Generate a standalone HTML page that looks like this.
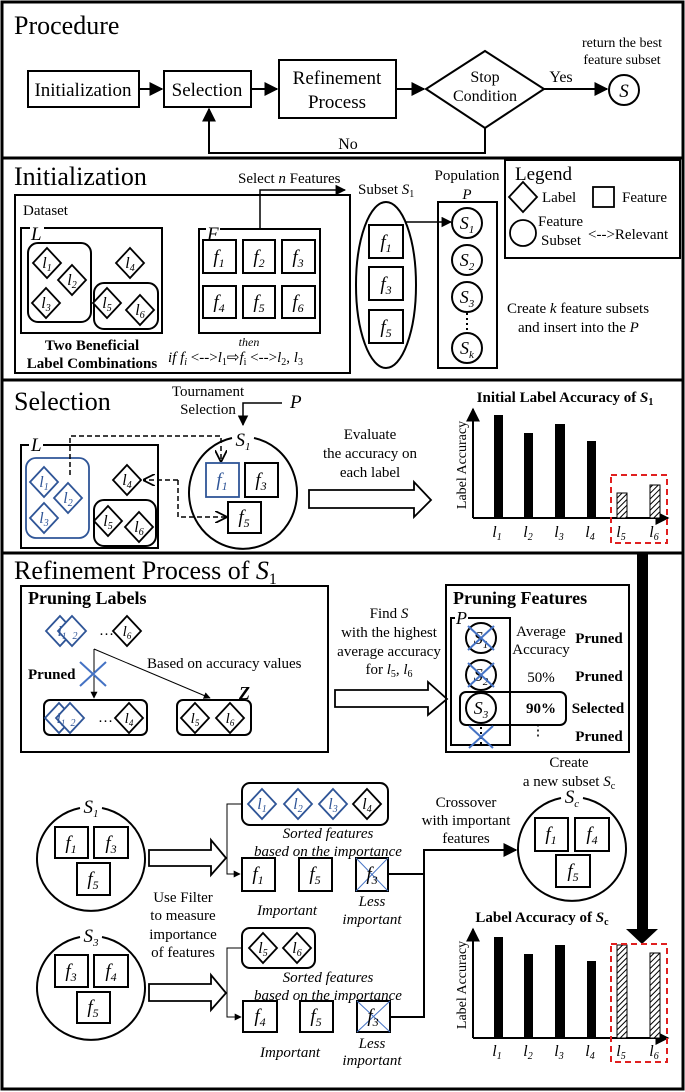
<!DOCTYPE html>
<html><head><meta charset="utf-8"><style>
html,body{margin:0;padding:0;background:#fff}
svg{display:block;font-family:"Liberation Serif",serif}
.t{font-size:15px}
.i{font-style:italic}
.b{font-weight:bold}
.bl{stroke:#2f5597}
</style></head><body>
<svg width="685" height="1092" viewBox="0 0 685 1092" xmlns="http://www.w3.org/2000/svg">
<defs>
<marker id="ar" viewBox="0 0 10 10" refX="9" refY="5" markerWidth="7" markerHeight="7" orient="auto"><path d="M0,0L10,5L0,10z" fill="#000"/></marker>
<marker id="ao" viewBox="0 0 10 10" refX="9" refY="5" markerWidth="8" markerHeight="8" orient="auto"><path d="M0,0L10,5L0,10" fill="none" stroke="#000" stroke-width="1.5"/></marker>
<pattern id="hat" patternUnits="userSpaceOnUse" width="4" height="4" patternTransform="rotate(45)"><rect width="4" height="4" fill="#fff"/><line x1="0" y1="0" x2="0" y2="4" stroke="#000" stroke-width="2"/></pattern>
<polygon id="dm" points="0,-15 14,0 0,15 -14,0" fill="#fff" stroke="#000" stroke-width="1.8"/>
<polygon id="db" points="0,-15 14,0 0,15 -14,0" fill="#fff" stroke="#2f5597" stroke-width="1.8"/>
</defs>
<g fill="none" stroke="#000" stroke-width="3">
<rect x="2" y="2" width="681" height="156"/>
<rect x="2" y="158" width="681" height="222"/>
<rect x="2" y="380" width="681" height="173"/>
<rect x="2" y="553" width="681" height="536"/>
</g>

<!-- PROCEDURE -->
<text x="14" y="34" font-size="26">Procedure</text>
<g fill="#fff" stroke="#000" stroke-width="2">
<rect x="28" y="71" width="111" height="36"/>
<rect x="164" y="71" width="87" height="36"/>
<rect x="279" y="60" width="117" height="58"/>
<polygon points="485,51 544,89 485,128 426,89"/>
<circle cx="624" cy="90" r="15"/>
</g>
<g stroke="#000" stroke-width="2" fill="none">
<line x1="139" y1="89" x2="162" y2="89" marker-end="url(#ar)"/>
<line x1="251" y1="89" x2="277" y2="89" marker-end="url(#ar)"/>
<line x1="396" y1="89" x2="424" y2="89" marker-end="url(#ar)"/>
<line x1="544" y1="89" x2="607" y2="89" marker-end="url(#ar)"/>
<polyline points="485,128 485,153 209,153 209,109" marker-end="url(#ar)"/>
</g>
<g font-size="19" text-anchor="middle">
<text x="83" y="96">Initialization</text>
<text x="207" y="96">Selection</text>
<text x="337" y="84">Refinement</text>
<text x="337" y="108">Process</text>
<text x="485" y="82" font-size="16">Stop</text>
<text x="485" y="101" font-size="16">Condition</text>
<text x="561" y="82" font-size="16">Yes</text>
<text x="348" y="149" font-size="16">No</text>
<text x="624" y="97" class="i">S</text>
<text x="622" y="47" font-size="14">return the best</text>
<text x="622" y="64" font-size="14">feature subset</text>
</g>

<!-- INITIALIZATION -->
<text x="14" y="185" font-size="26">Initialization</text>
<g fill="none" stroke="#000" stroke-width="2">
<rect x="15" y="195" width="335" height="178"/>
<rect x="21" y="228" width="141" height="105"/>
<rect x="28" y="243" width="63" height="79" rx="10"/>
<rect x="94" y="283" width="64" height="46" rx="10"/>
<rect x="199" y="229" width="121" height="104"/>
<ellipse cx="386" cy="285" rx="30" ry="83"/>
<rect x="438" y="202" width="59" height="166"/>
<rect x="505" y="160" width="175" height="98"/>
</g>
<rect x="30" y="222" width="14" height="10" fill="#fff"/>
<rect x="206" y="222" width="14" height="10" fill="#fff"/>
<text x="23" y="215" class="t" font-size="19">Dataset</text>
<text x="31" y="240" class="i" font-size="19">L</text>
<text x="207" y="240" class="i" font-size="19">F</text>
<use href="#dm" x="47" y="263"/><use href="#dm" x="72" y="280"/><use href="#dm" x="46" y="303"/>
<use href="#dm" x="130" y="263"/><use href="#dm" x="107" y="303"/><use href="#dm" x="140" y="310"/>
<g font-size="16" text-anchor="middle" class="i">
<text x="47" y="268">l<tspan font-size="10" dy="3">1</tspan></text>
<text x="72" y="285">l<tspan font-size="10" dy="3">2</tspan></text>
<text x="46" y="308">l<tspan font-size="10" dy="3">3</tspan></text>
<text x="130" y="268">l<tspan font-size="10" dy="3">4</tspan></text>
<text x="107" y="308">l<tspan font-size="10" dy="3">5</tspan></text>
<text x="140" y="315">l<tspan font-size="10" dy="3">6</tspan></text>
</g>
<g fill="#fff" stroke="#000" stroke-width="2">
<rect x="203" y="240" width="33" height="33"/><rect x="243" y="240" width="32" height="33"/><rect x="282" y="240" width="33" height="33"/>
<rect x="203" y="286" width="33" height="32"/><rect x="243" y="286" width="32" height="32"/><rect x="282" y="286" width="33" height="32"/>
<rect x="369" y="225" width="34" height="33"/><rect x="369" y="267" width="34" height="33"/><rect x="369" y="310" width="34" height="33"/>
<circle cx="467" cy="223" r="15"/><circle cx="467" cy="260" r="15"/><circle cx="467" cy="297" r="15"/><circle cx="467" cy="348" r="15"/>
</g>
<g font-size="19" text-anchor="middle" class="i">
<text x="219" y="263">f<tspan font-size="12" dy="4">1</tspan></text>
<text x="259" y="263">f<tspan font-size="12" dy="4">2</tspan></text>
<text x="298" y="263">f<tspan font-size="12" dy="4">3</tspan></text>
<text x="219" y="308">f<tspan font-size="12" dy="4">4</tspan></text>
<text x="259" y="308">f<tspan font-size="12" dy="4">5</tspan></text>
<text x="298" y="308">f<tspan font-size="12" dy="4">6</tspan></text>
<text x="386" y="248">f<tspan font-size="12" dy="4">1</tspan></text>
<text x="386" y="290">f<tspan font-size="12" dy="4">3</tspan></text>
<text x="386" y="333">f<tspan font-size="12" dy="4">5</tspan></text>
<text x="467" y="229" font-size="18">S<tspan font-size="11" dy="4">1</tspan></text>
<text x="467" y="266" font-size="18">S<tspan font-size="11" dy="4">2</tspan></text>
<text x="467" y="303" font-size="18">S<tspan font-size="11" dy="4">3</tspan></text>
<text x="467" y="354" font-size="18">S<tspan font-size="11" dy="4">k</tspan></text>
</g>
<line x1="467" y1="313" x2="467" y2="333" stroke="#000" stroke-width="2" stroke-dasharray="2,3"/>
<g stroke="#000" stroke-width="1.5" fill="none">
<polyline points="260,229 260,190 345,190" marker-end="url(#ar)"/>
<line x1="405" y1="222" x2="451" y2="222" marker-end="url(#ar)"/>
</g>
<text x="238" y="183" class="t">Select <tspan class="i">n</tspan> Features</text>
<text x="358" y="194" class="t">Subset <tspan class="i">S</tspan><tspan font-size="10" dy="3">1</tspan></text>
<text x="467" y="180" class="t" text-anchor="middle">Population</text>
<text x="467" y="199" class="t i" text-anchor="middle">P</text>
<text x="92" y="350" class="t b" text-anchor="middle">Two Beneficial</text>
<text x="92" y="368" class="t b" text-anchor="middle">Label Combinations</text>
<text x="249" y="346" font-size="12" class="i" text-anchor="middle">then</text>
<text x="168" y="362" class="t"><tspan class="i">if f<tspan font-size="10" dy="3">i</tspan></tspan><tspan dy="-3"> &lt;--&gt;</tspan><tspan class="i">l</tspan><tspan font-size="10" dy="3">1</tspan><tspan dy="-3">⇨</tspan><tspan class="i">f</tspan><tspan font-size="10" dy="3">i</tspan><tspan dy="-3"> &lt;--&gt;</tspan><tspan class="i">l</tspan><tspan font-size="10" dy="3">2</tspan><tspan dy="-3">, </tspan><tspan class="i">l</tspan><tspan font-size="10" dy="3">3</tspan></text>
<!-- legend -->
<text x="515" y="180" font-size="19">Legend</text>
<use href="#dm" x="523" y="197"/>
<text x="542" y="202" class="t">Label</text>
<rect x="593" y="187" width="21" height="20" fill="none" stroke="#000" stroke-width="1.8"/>
<text x="622" y="202" class="t">Feature</text>
<circle cx="523" cy="233" r="13" fill="none" stroke="#000" stroke-width="1.8"/>
<text x="538" y="226" class="t">Feature</text>
<text x="541" y="245" class="t">Subset</text>
<text x="588" y="239" class="t">&lt;--&gt;Relevant</text>
<text x="507" y="313" class="t">Create <tspan class="i">k</tspan> feature subsets</text>
<text x="518" y="332" class="t">and insert into the <tspan class="i">P</tspan></text>

<!-- SELECTION -->
<text x="14" y="410" font-size="26">Selection</text>
<text x="208" y="396" class="t" text-anchor="middle">Tournament</text>
<text x="208" y="414" class="t" text-anchor="middle">Selection</text>
<text x="290" y="408" font-size="19" class="i">P</text>
<polyline points="282,403 243,403 243,425" fill="none" stroke="#000" stroke-width="1.5" marker-end="url(#ar)"/>
<text x="243" y="446" font-size="19" class="i" text-anchor="middle">S<tspan font-size="11" dy="4">1</tspan></text>
<g fill="none" stroke="#000" stroke-width="2">
<path d="M232,438 A54,56 0 1 0 254,438"/>
<rect x="21" y="445" width="137" height="103"/>
<rect x="94" y="500" width="62" height="46" rx="10"/>
</g>
<rect x="29" y="440" width="14" height="10" fill="#fff"/>
<text x="31" y="451" class="i" font-size="19">L</text>
<rect x="26" y="458" width="63" height="80" rx="10" fill="none" stroke="#2f5597" stroke-width="1.8"/>
<use href="#db" x="44" y="482"/><use href="#db" x="68" y="498"/><use href="#db" x="44" y="518"/>
<use href="#dm" x="127" y="480"/><use href="#dm" x="108" y="521"/><use href="#dm" x="139" y="527"/>
<g font-size="16" text-anchor="middle" class="i">
<text x="44" y="487" fill="#2f5597">l<tspan font-size="10" dy="3">1</tspan></text>
<text x="68" y="503" fill="#2f5597">l<tspan font-size="10" dy="3">2</tspan></text>
<text x="44" y="523" fill="#2f5597">l<tspan font-size="10" dy="3">3</tspan></text>
<text x="127" y="485">l<tspan font-size="10" dy="3">4</tspan></text>
<text x="108" y="526">l<tspan font-size="10" dy="3">5</tspan></text>
<text x="139" y="532">l<tspan font-size="10" dy="3">6</tspan></text>
</g>
<rect x="206" y="463" width="33" height="34" fill="#fff" stroke="#2f5597" stroke-width="1.8"/>
<rect x="245" y="463" width="33" height="34" fill="#fff" stroke="#000" stroke-width="2"/>
<rect x="228" y="502" width="33" height="31" fill="#fff" stroke="#000" stroke-width="2"/>
<g font-size="19" text-anchor="middle" class="i">
<text x="222" y="486" fill="#2f5597">f<tspan font-size="12" dy="4">1</tspan></text>
<text x="261" y="486">f<tspan font-size="12" dy="4">3</tspan></text>
<text x="244" y="523">f<tspan font-size="12" dy="4">5</tspan></text>
</g>
<g fill="none" stroke="#000" stroke-width="1.5" stroke-dasharray="5,3">
<polyline points="70,475 70,436 221,436 221,461" marker-end="url(#ao)"/>
<polyline points="178,480 178,517 226,517" marker-end="url(#ao)"/>
<line x1="178" y1="480" x2="144" y2="480" marker-end="url(#ao)"/>
</g>
<g class="t" text-anchor="middle">
<text x="370" y="439">Evaluate</text>
<text x="370" y="458">the accuracy on</text>
<text x="370" y="477">each label</text>
</g>
<polygon points="309,490 414,490 414,482 431,500 414,517 414,508 309,508" fill="#fff" stroke="#000" stroke-width="1.8"/>
<!-- chart 1 -->
<text x="565" y="402" class="t b" text-anchor="middle">Initial Label Accuracy of <tspan class="i">S</tspan><tspan font-size="10" dy="3">1</tspan></text>
<g stroke="#000" stroke-width="2">
<line x1="473" y1="518" x2="473" y2="409" marker-end="url(#ar)"/>
<line x1="473" y1="518" x2="668" y2="518" marker-end="url(#ar)"/>
</g>
<text transform="translate(466,465) rotate(-90)" font-size="14" text-anchor="middle">Label Accuracy</text>
<rect x="494" y="415" width="9" height="103"/>
<rect x="524" y="433" width="9" height="85"/>
<rect x="555" y="424" width="10" height="94"/>
<rect x="587" y="441" width="9" height="77"/>
<rect x="617" y="493" width="10" height="25" fill="url(#hat)" stroke="#000"/>
<rect x="650" y="485" width="10" height="33" fill="url(#hat)" stroke="#000"/>
<g font-size="16" text-anchor="middle" class="i">
<text x="497" y="537">l<tspan font-size="10" dy="3">1</tspan></text>
<text x="528" y="537">l<tspan font-size="10" dy="3">2</tspan></text>
<text x="559" y="537">l<tspan font-size="10" dy="3">3</tspan></text>
<text x="590" y="537">l<tspan font-size="10" dy="3">4</tspan></text>
<text x="621" y="537">l<tspan font-size="10" dy="3">5</tspan></text>
<text x="654" y="537">l<tspan font-size="10" dy="3">6</tspan></text>
</g>
<rect x="611" y="475" width="56" height="68" fill="none" stroke="#e02020" stroke-width="2" stroke-dasharray="6,4"/>

<!-- REFINEMENT -->
<text x="14" y="579" font-size="26">Refinement Process of <tspan class="i">S</tspan><tspan font-size="16" dy="5">1</tspan></text>
<rect x="21" y="586" width="307" height="166" fill="none" stroke="#000" stroke-width="2"/>
<text x="28" y="604" font-size="18" class="b">Pruning Labels</text>
<use href="#db" x="60" y="631"/><use href="#db" x="72" y="631"/>
<text x="99" y="635" class="t">…</text>
<use href="#dm" x="127" y="631"/>
<g font-size="15" text-anchor="middle" class="i">
<text x="62" y="636" fill="#2f5597">l<tspan font-size="9" dy="3">1</tspan></text>
<text x="75" y="639" fill="#2f5597" font-size="10">2</text>
<text x="127" y="636">l<tspan font-size="9" dy="3">6</tspan></text>
</g>
<g stroke="#000" stroke-width="1" fill="none">
<line x1="94" y1="649" x2="94" y2="698" marker-end="url(#ar)"/>
<line x1="94" y1="649" x2="210" y2="698" marker-end="url(#ar)"/>
</g>
<g stroke="#4472c4" stroke-width="2"><line x1="80" y1="662" x2="106" y2="686"/><line x1="106" y1="662" x2="80" y2="686"/></g>
<text x="28" y="679" class="t b">Pruned</text>
<text x="147" y="668" class="t">Based on accuracy values</text>
<rect x="44" y="700" width="103" height="35" rx="6" fill="none" stroke="#000" stroke-width="2"/>
<use href="#db" x="59" y="718"/><use href="#db" x="70" y="718"/>
<text x="98" y="722" class="t">…</text>
<use href="#dm" x="129" y="718"/>
<g font-size="15" text-anchor="middle" class="i">
<text x="61" y="723" fill="#2f5597">l<tspan font-size="9" dy="3">1</tspan></text>
<text x="73" y="726" fill="#2f5597" font-size="10">2</text>
<text x="129" y="723">l<tspan font-size="9" dy="3">4</tspan></text>
</g>
<text x="239" y="699" font-size="18" class="b i">Z</text>
<rect x="177" y="700" width="74" height="35" rx="6" fill="none" stroke="#000" stroke-width="2"/>
<use href="#dm" x="195" y="718"/><use href="#dm" x="230" y="718"/>
<g font-size="15" text-anchor="middle" class="i">
<text x="195" y="723">l<tspan font-size="9" dy="3">5</tspan></text>
<text x="230" y="723">l<tspan font-size="9" dy="3">6</tspan></text>
</g>
<g class="t" text-anchor="middle">
<text x="389" y="618">Find <tspan class="i">S</tspan></text>
<text x="389" y="637">with the highest</text>
<text x="389" y="656">average accuracy</text>
<text x="389" y="674">for <tspan class="i">l</tspan><tspan font-size="10" dy="3">5</tspan><tspan dy="-3">, </tspan><tspan class="i">l</tspan><tspan font-size="10" dy="3">6</tspan></text>
</g>
<polygon points="335,690 428,690 428,682 447,699 428,715 428,707 335,707" fill="#fff" stroke="#000" stroke-width="1.8"/>
<rect x="446" y="585" width="183" height="167" fill="none" stroke="#000" stroke-width="2"/>
<text x="453" y="604" font-size="18" class="b">Pruning Features</text>
<rect x="451" y="618" width="59" height="127" fill="none" stroke="#000" stroke-width="2"/>
<rect x="455" y="612" width="13" height="10" fill="#fff"/>
<text x="456" y="624" class="i" font-size="18">P</text>
<g fill="none" stroke="#000" stroke-width="2">
<circle cx="481" cy="638" r="15"/><circle cx="481" cy="675" r="15"/><circle cx="481" cy="708" r="15"/>
<rect x="460" y="692" width="106" height="33" rx="6"/>
</g>
<g font-size="18" text-anchor="middle" class="i">
<text x="481" y="644">S<tspan font-size="11" dy="4">1</tspan></text>
<text x="481" y="681">S<tspan font-size="11" dy="4">2</tspan></text>
<text x="481" y="714">S<tspan font-size="11" dy="4">3</tspan></text>
</g>
<line x1="481" y1="727" x2="481" y2="745" stroke="#000" stroke-width="2" stroke-dasharray="2,3"/>
<g stroke="#4472c4" stroke-width="2">
<line x1="468" y1="626" x2="494" y2="650"/><line x1="494" y1="626" x2="468" y2="650"/>
<line x1="468" y1="663" x2="494" y2="687"/><line x1="494" y1="663" x2="468" y2="687"/>
<line x1="469" y1="726" x2="493" y2="748"/><line x1="493" y1="726" x2="469" y2="748"/>
</g>
<g class="t" text-anchor="middle">
<text x="541" y="636">Average</text>
<text x="541" y="654">Accuracy</text>
<text x="541" y="682">50%</text>
<text x="541" y="713" class="b">90%</text>
<text x="538" y="735">⋮</text>
<text x="599" y="643" class="b">Pruned</text>
<text x="599" y="681" class="b">Pruned</text>
<text x="598" y="713" class="b">Selected</text>
<text x="599" y="741" class="b">Pruned</text>
<text x="569" y="767">Create</text>
<text x="569" y="786">a new subset <tspan class="i">S</tspan><tspan font-size="10" dy="3">c</tspan></text>
</g>

<!-- lower refinement: S1 -->
<g fill="none" stroke="#000" stroke-width="2">
<path d="M80,808 A54,52 0 1 0 102,808"/>
<path d="M80,937 A54,52 0 1 0 102,937"/>
<path d="M561,798 A54,52 0 1 0 583,798"/>
</g>
<g font-size="19" text-anchor="middle" class="i">
<text x="91" y="813">S<tspan font-size="11" dy="4">1</tspan></text>
<text x="91" y="942">S<tspan font-size="11" dy="4">3</tspan></text>
<text x="572" y="803">S<tspan font-size="11" dy="4">c</tspan></text>
</g>
<g fill="#fff" stroke="#000" stroke-width="2">
<rect x="55" y="827" width="33" height="31"/><rect x="94" y="827" width="34" height="31"/><rect x="77" y="863" width="33" height="32"/>
<rect x="55" y="955" width="33" height="32"/><rect x="94" y="955" width="34" height="32"/><rect x="77" y="992" width="33" height="31"/>
<rect x="535" y="818" width="33" height="33"/><rect x="575" y="818" width="34" height="33"/><rect x="556" y="855" width="34" height="32"/>
<rect x="242" y="858" width="33" height="33"/><rect x="299" y="858" width="33" height="33"/><rect x="356" y="858" width="32" height="33"/>
<rect x="243" y="1001" width="34" height="31"/><rect x="300" y="1001" width="33" height="31"/><rect x="357" y="1001" width="33" height="31"/>
</g>
<g stroke="#4472c4" stroke-width="1"><line x1="356" y1="858" x2="388" y2="891"/><line x1="388" y1="858" x2="356" y2="891"/>
<line x1="357" y1="1001" x2="390" y2="1032"/><line x1="390" y1="1001" x2="357" y2="1032"/></g>
<g font-size="19" text-anchor="middle" class="i">
<text x="71" y="849">f<tspan font-size="12" dy="4">1</tspan></text>
<text x="111" y="849">f<tspan font-size="12" dy="4">3</tspan></text>
<text x="93" y="885">f<tspan font-size="12" dy="4">5</tspan></text>
<text x="71" y="977">f<tspan font-size="12" dy="4">3</tspan></text>
<text x="111" y="977">f<tspan font-size="12" dy="4">4</tspan></text>
<text x="93" y="1013">f<tspan font-size="12" dy="4">5</tspan></text>
<text x="551" y="840">f<tspan font-size="12" dy="4">1</tspan></text>
<text x="592" y="840">f<tspan font-size="12" dy="4">4</tspan></text>
<text x="573" y="877">f<tspan font-size="12" dy="4">5</tspan></text>
<text x="258" y="880">f<tspan font-size="12" dy="4">1</tspan></text>
<text x="315" y="880">f<tspan font-size="12" dy="4">5</tspan></text>
<text x="372" y="880">f<tspan font-size="12" dy="4">3</tspan></text>
<text x="260" y="1022">f<tspan font-size="12" dy="4">4</tspan></text>
<text x="316" y="1022">f<tspan font-size="12" dy="4">5</tspan></text>
<text x="373" y="1022">f<tspan font-size="12" dy="4">3</tspan></text>
</g>
<polygon points="149,850 211,850 211,840 226,858 211,875 211,866 149,866" fill="#fff" stroke="#000" stroke-width="1.8"/>
<polygon points="149,984 211,984 211,975 226,993 211,1010 211,1001 149,1001" fill="#fff" stroke="#000" stroke-width="1.8"/>
<rect x="242" y="783" width="146" height="42" rx="8" fill="none" stroke="#000" stroke-width="2"/>
<use href="#db" x="262" y="804"/><use href="#db" x="298" y="804"/><use href="#db" x="333" y="804"/><use href="#dm" x="367" y="804"/>
<rect x="242" y="928" width="73" height="40" rx="8" fill="none" stroke="#000" stroke-width="2"/>
<use href="#dm" x="263" y="948"/><use href="#dm" x="297" y="948"/>
<g font-size="16" text-anchor="middle" class="i">
<text x="262" y="809" fill="#2f5597">l<tspan font-size="10" dy="3">1</tspan></text>
<text x="298" y="809" fill="#2f5597">l<tspan font-size="10" dy="3">2</tspan></text>
<text x="333" y="809" fill="#2f5597">l<tspan font-size="10" dy="3">3</tspan></text>
<text x="367" y="809">l<tspan font-size="10" dy="3">4</tspan></text>
<text x="263" y="953">l<tspan font-size="10" dy="3">5</tspan></text>
<text x="297" y="953">l<tspan font-size="10" dy="3">6</tspan></text>
</g>
<g stroke="#000" fill="none">
<polyline points="242,804 227,804 227,874 240,874" stroke-width="1" marker-end="url(#ar)"/>
<polyline points="242,948 227,948 227,1017 241,1017" stroke-width="1" marker-end="url(#ar)"/>
<polyline points="388,874 424,874" stroke-width="2"/>
<polyline points="390,1017 424,1017 424,850 516,850" stroke-width="2" marker-end="url(#ar)"/>
</g>
<g class="t i" text-anchor="middle">
<text x="328" y="838">Sorted features</text>
<text x="328" y="856">based on the importance</text>
<text x="287" y="915">Important</text>
<text x="372" y="906">Less</text>
<text x="372" y="924">important</text>
<text x="328" y="982">Sorted features</text>
<text x="328" y="1000">based on the importance</text>
<text x="290" y="1057">Important</text>
<text x="372" y="1048">Less</text>
<text x="372" y="1065">important</text>
</g>
<g class="t" text-anchor="middle">
<text x="183" y="902">Use Filter</text>
<text x="183" y="920">to measure</text>
<text x="183" y="939">importance</text>
<text x="183" y="957">of features</text>
<text x="466" y="807">Crossover</text>
<text x="466" y="825">with important</text>
<text x="466" y="843">features</text>
</g>
<!-- big arrow -->
<rect x="637" y="553" width="11" height="378" fill="#000"/>
<polygon points="626,929 658,929 642,944" fill="#000"/>
<!-- chart 2 -->
<text x="542" y="922" class="t b" text-anchor="middle">Label Accuracy of <tspan class="i">S</tspan><tspan font-size="10" dy="3">c</tspan></text>
<g stroke="#000" stroke-width="2">
<line x1="473" y1="1038" x2="473" y2="929" marker-end="url(#ar)"/>
<line x1="473" y1="1038" x2="668" y2="1038" marker-end="url(#ar)"/>
</g>
<text transform="translate(466,985) rotate(-90)" font-size="14" text-anchor="middle">Label Accuracy</text>
<rect x="494" y="937" width="9" height="101"/>
<rect x="524" y="954" width="9" height="84"/>
<rect x="555" y="945" width="10" height="93"/>
<rect x="587" y="961" width="9" height="77"/>
<rect x="617" y="945" width="10" height="93" fill="url(#hat)" stroke="#000"/>
<rect x="650" y="953" width="10" height="85" fill="url(#hat)" stroke="#000"/>
<g font-size="16" text-anchor="middle" class="i">
<text x="497" y="1056">l<tspan font-size="10" dy="3">1</tspan></text>
<text x="528" y="1056">l<tspan font-size="10" dy="3">2</tspan></text>
<text x="559" y="1056">l<tspan font-size="10" dy="3">3</tspan></text>
<text x="590" y="1056">l<tspan font-size="10" dy="3">4</tspan></text>
<text x="621" y="1056">l<tspan font-size="10" dy="3">5</tspan></text>
<text x="654" y="1056">l<tspan font-size="10" dy="3">6</tspan></text>
</g>
<rect x="611" y="944" width="56" height="118" fill="none" stroke="#e02020" stroke-width="2" stroke-dasharray="6,4"/>
</svg>
</body></html>
